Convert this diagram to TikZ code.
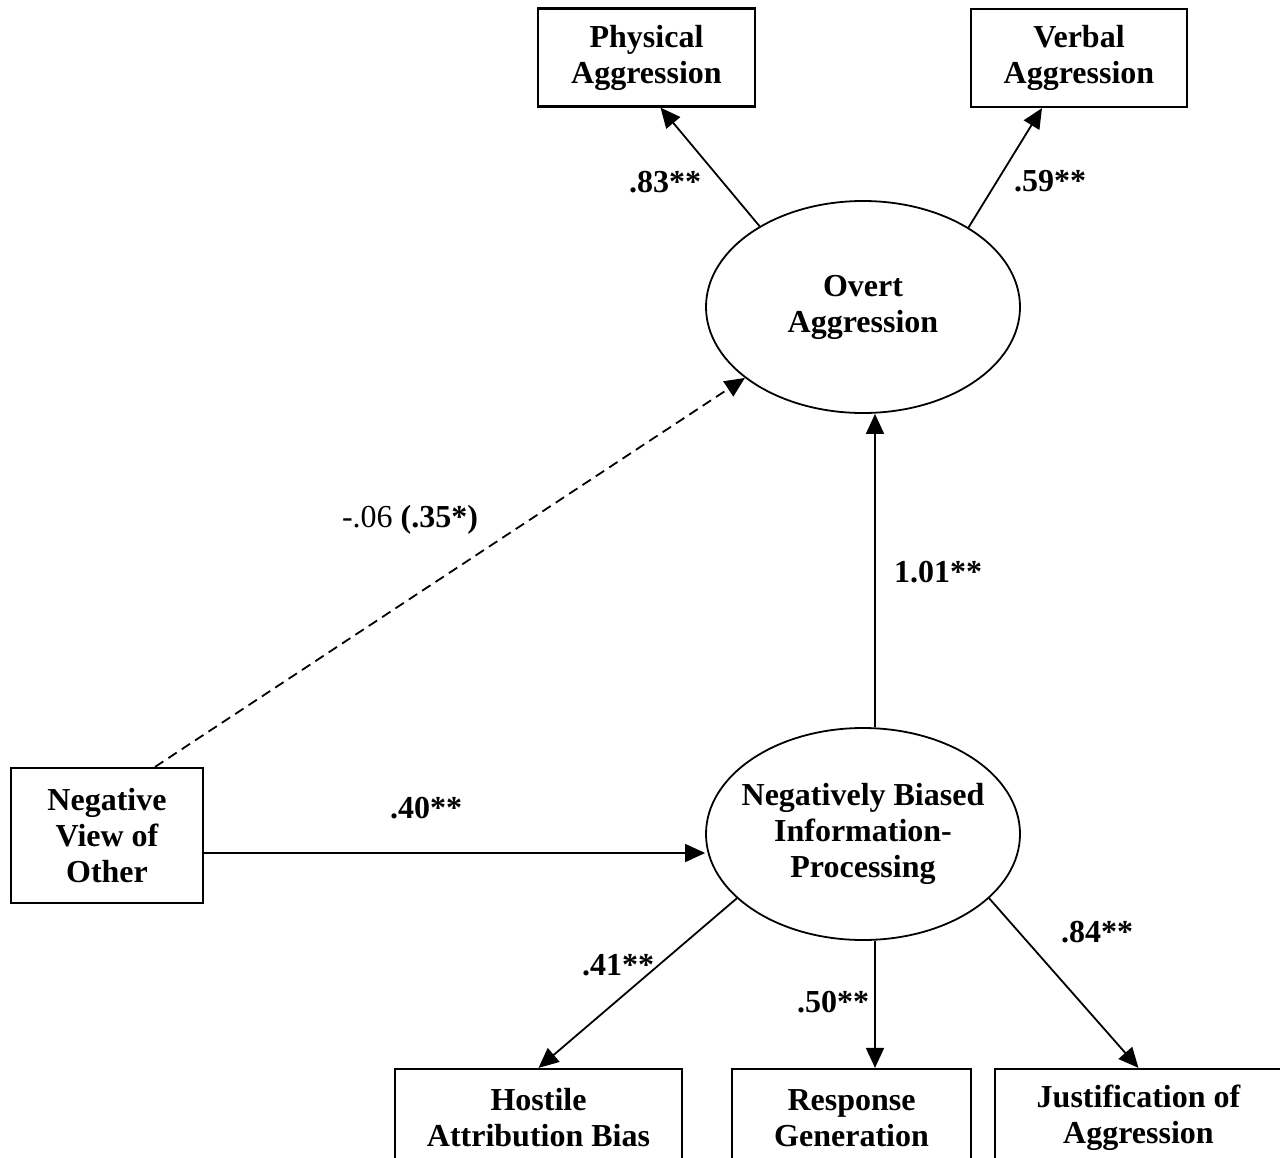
\documentclass[tikz,border=0pt]{standalone}
\usepackage{fontspec}
\setmainfont{Liberation Serif}
\usetikzlibrary{shapes.geometric, arrows.meta}

\begin{document}
\begin{tikzpicture}[x=0.5pt, y=-0.5pt,
    lbl/.style={font=\fontsize{16}{18}\selectfont\bfseries, align=center},
    box/.style={lbl, draw, line width=1.1pt, rectangle, inner sep=0pt, minimum height=49pt},
    latent/.style={lbl, draw, line width=0.9pt, ellipse, inner sep=0pt, inner xsep=-14pt, minimum width=157pt, minimum height=106pt},
    path/.style={line width=0.9pt, -{Triangle[length=10pt, width=9pt]}},
    coef/.style={font=\fontsize{16}{18}\selectfont\bfseries}]
            \clip (0, 0) rectangle (1280, 1157);

            %nodes
            \node[box, minimum width=108.5pt] (phys) at (646.5, 57.5) {Physical\\Aggression};
            \node[box, minimum width=108pt] (verb) at (1079, 58) {Verbal\\Aggression};
            \node[latent] (overt) at (863, 307) {Overt\\Aggression};
            \node[latent] (nbip) at (863, 834) {Negatively Biased\\Information-\\Processing};
            \node[box, minimum width=96pt, minimum height=67.5pt] (nvo) at (107, 835.5) {Negative\\View of\\Other};
            \node[box, minimum width=143.5pt] (hostile) at (538.5, 1118) {Hostile\\Attribution Bias};
            \node[box, minimum width=119.5pt] (resp) at (851.5, 1118) {Response\\Generation};
            \node[box, minimum width=143.5pt] (just) at (1138.5, 1118) {Justification of\\Aggression};

            %edges
            \draw[path] (overt.142) -- ([xshift=7pt]phys.south);
            \draw[path] (overt.37) -- ([xshift=-18.5pt]verb.south);
            \draw[path] ([xshift=6pt]nbip.north) -- ([xshift=6pt]overt.south);
            \draw[path, dashed, dash pattern=on 5pt off 3pt] ([xshift=24pt]nvo.north) -- (overt.211);
            \draw[path] ([yshift=-8.75pt]nvo.east) -- ([yshift=-8.75pt]nvo.east -| nbip.west);
            \draw[path] (nbip.207) -- (hostile.north);
            \draw[path] ([xshift=6pt]nbip.south) -- ([xshift=6pt]nbip.south |- resp.north);
            \draw[path] (nbip.-27) -- (just.north);

            %coefficients
            \node[coef] (c1) at (665, 182) {.83**};
            \node[coef] (c2) at (1050, 181) {.59**};
            \node[coef] (c3) at (938, 572) {1.01**};
            \node[font=\fontsize{16}{18}\selectfont] (c4) at (410, 520) {-.06 \textbf{(.35*)}};
            \node[coef] (c5) at (426, 808) {.40**};
            \node[coef] (c6) at (618, 965) {.41**};
            \node[coef] (c7) at (833, 1002) {.50**};
            \node[coef] (c8) at (1097, 932) {.84**};
        \end{tikzpicture}
\end{document}
